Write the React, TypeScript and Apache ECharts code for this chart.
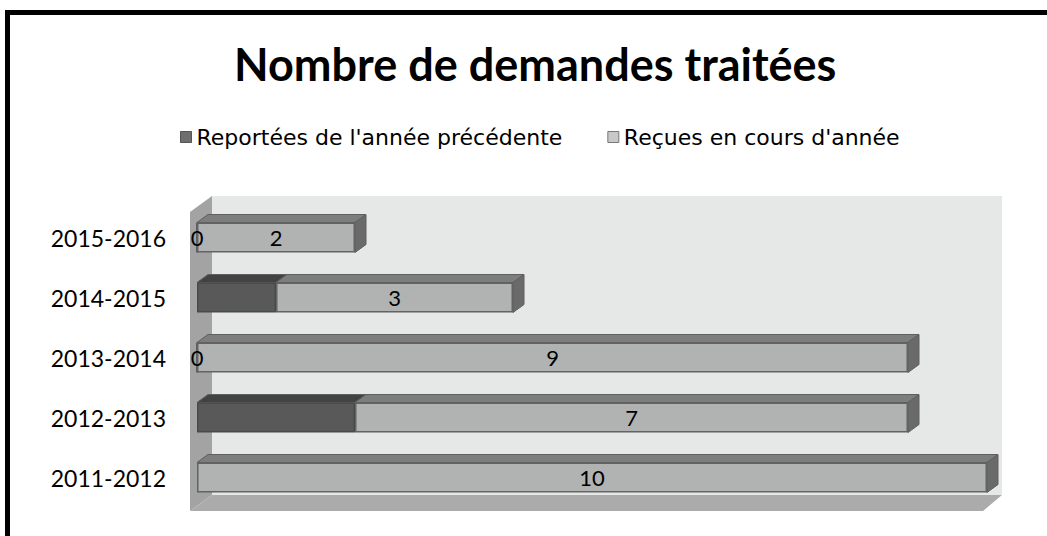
import React, { useEffect, useRef } from "react";
import * as echarts from "echarts";

const categories = ["2011-2012", "2012-2013", "2013-2014", "2014-2015", "2015-2016"];
const reportees: (number | null)[] = [null, 2, 0, 1, 0];
const recues: number[] = [10, 7, 9, 3, 2];
const seriesNames = ["Reportées de l'année précédente", "Reçues en cours d'année"];
const titleText = "Nombre de demandes traitées";

const FONT = "Lato, 'Noto Sans', sans-serif";
const LEGEND_FONT = "'DejaVu Sans', 'Open Sans', sans-serif";

export default function App() {
  const ref = useRef<HTMLDivElement>(null);
  useEffect(() => {
    if (!ref.current) return;
    const chart = echarts.init(ref.current, undefined, { renderer: "svg" });
    const cubeData = categories.map((_, i) => [i, reportees[i] == null ? 0 : reportees[i], recues[i]]);
    const option: any = {
      animation: false,
      backgroundColor: "#ffffff",
      title: {
        text: titleText,
        left: 229,
        top: 36,
        textStyle: { fontFamily: FONT, fontSize: 45, fontWeight: "bold", color: "#000" },
      },
      legend: {
        left: 175,
        top: 121,
        itemWidth: 11,
        itemHeight: 11,
        itemGap: 45,
        icon: "rect",
        data: [
          { name: seriesNames[0], itemStyle: { color: "#6e6e6e", borderColor: "#555", borderWidth: 1 } },
          { name: seriesNames[1], itemStyle: { color: "#c8c8c8", borderColor: "#777", borderWidth: 1 } },
        ],
        textStyle: { fontFamily: LEGEND_FONT, fontSize: 22, color: "#000" },
      },
      grid: { left: 197, width: 790, top: 207.5, height: 300 },
      xAxis: {
        type: "value",
        min: 0,
        max: 10,
        show: false,
        splitLine: { show: false },
      },
      yAxis: {
        type: "category",
        data: categories,
        axisLine: { show: false },
        axisTick: { show: false },
        axisLabel: { fontFamily: FONT, fontSize: 23, color: "#000", margin: 31 },
      },
      graphic: {
        elements: [
          {
            type: "polygon",
            z: -10,
            shape: { points: [[212, 196], [1002, 196], [1002, 495], [212, 495]] },
            style: { fill: "#e6e7e7" },
          },
          {
            type: "polygon",
            z: -9,
            shape: { points: [[190, 212], [212, 196], [212, 495], [190, 511]] },
            style: { fill: "#a3a3a3" },
          },
          {
            type: "polygon",
            z: -9,
            shape: { points: [[212, 495], [1002, 495], [983, 511], [190, 511]] },
            style: { fill: "#ababab" },
          },
          {
            type: "rect",
            z: 100,
            shape: { x: 7.5, y: 12.5, width: 1100, height: 600 },
            style: { fill: "none", stroke: "#000", lineWidth: 5 },
          },
        ],
      },
      series: [
        {
          type: "custom",
          z: 1,
          silent: true,
          encode: { x: [1, 2], y: 0 },
          data: cubeData,
          renderItem: (params: any, api: any) => {
            const cat = api.value(0);
            let rep = api.value(1);
            if (isNaN(rep)) rep = 0;
            const rec = api.value(2);
            const p0 = api.coord([0, cat]);
            const p1 = api.coord([rep, cat]);
            const p2 = api.coord([rep + rec, cat]);
            const h = api.size([0, 1])[1] * 0.5;
            const top = p0[1] - h / 2;
            const dx = 11;
            const dy = -8;
            const stroke = "#5f5f5f";
            const children: any[] = [];
            if (rep > 0) {
              children.push({
                type: "polygon",
                shape: { points: [[p0[0], top], [p1[0], top], [p1[0] + dx, top + dy], [p0[0] + dx, top + dy]] },
                style: { fill: "#424242", stroke, lineWidth: 1 },
              });
            }
            children.push({
              type: "polygon",
              shape: { points: [[p1[0], top], [p2[0], top], [p2[0] + dx, top + dy], [p1[0] + dx, top + dy]] },
              style: { fill: "#7d7d7d", stroke, lineWidth: 1 },
            });
            children.push({
              type: "polygon",
              shape: { points: [[p2[0], top], [p2[0] + dx, top + dy], [p2[0] + dx, top + h + dy], [p2[0], top + h]] },
              style: { fill: "#6a6a6a", stroke, lineWidth: 1 },
            });
            return { type: "group", children };
          },
        },
        {
          name: seriesNames[0],
          type: "bar",
          stack: "total",
          z: 3,
          barWidth: 30,
          data: reportees,
          itemStyle: { color: "#595959", borderColor: "#4a4a4a", borderWidth: 1.5 },
          label: {
            show: true,
            position: "inside",
            fontFamily: FONT,
            fontSize: 22,
            color: "#000",
            formatter: (p: any) => (p.value === 0 ? "0" : ""),
          },
        },
        {
          name: seriesNames[1],
          type: "bar",
          stack: "total",
          z: 3,
          barWidth: 30,
          data: recues,
          itemStyle: { color: "#b1b2b2", borderColor: "#636363", borderWidth: 1.5 },
          label: {
            show: true,
            position: "inside",
            fontFamily: FONT,
            fontSize: 22,
            color: "#000",
          },
        },
      ],
    };
    chart.setOption(option);
    return () => chart.dispose();
  }, []);
  return (
    <div
      ref={ref}
      style={{ position: "absolute", left: 0, top: 0, width: 1047, height: 536 }}
    />
  );
}
